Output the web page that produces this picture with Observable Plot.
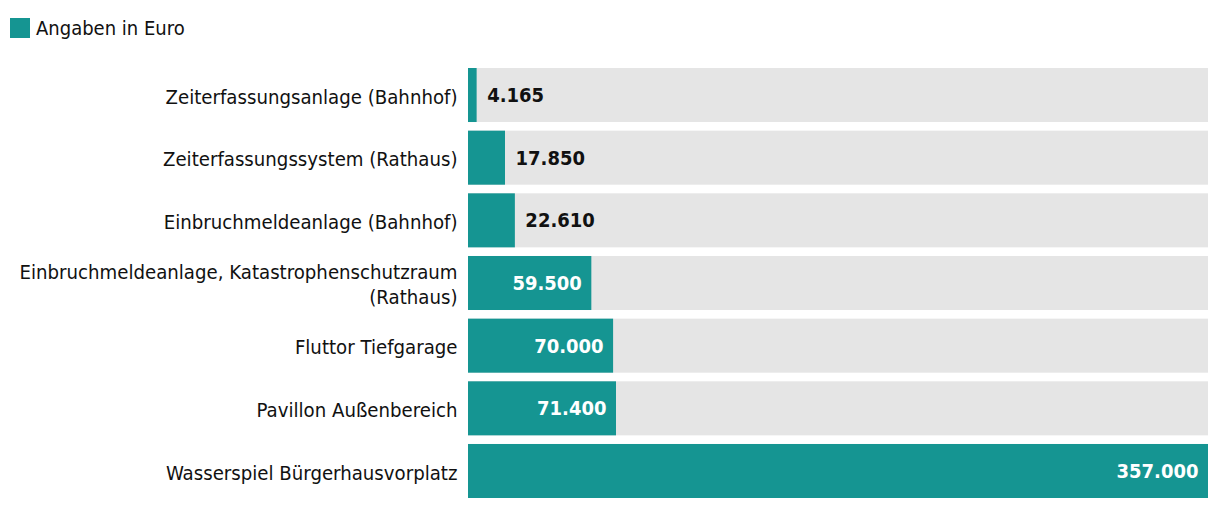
<!DOCTYPE html>
<html>
<head>
<meta charset="utf-8">
<script src="https://cdn.jsdelivr.net/npm/d3@7"></script>
<script src="https://cdn.jsdelivr.net/npm/@observablehq/plot@0.6"></script>
<style>
  html, body { margin: 0; padding: 0; background: #fff; }
  body { width: 1220px; height: 510px; overflow: hidden; font-family: "Liberation Sans Narrow", "DejaVu Sans Condensed", sans-serif; }
  #legend { height: 60px; position: relative; }
  #legend .sw { position: absolute; left: 10px; top: 18px; width: 20px; height: 20px; background: #159592; }
  #legend .lt { position: absolute; left: 36px; top: 15px; font-size: 20px; color: #111; line-height: 26px; }
  #chart svg { display: block; }
</style>
</head>
<body>
<div id="legend"><span class="sw"></span><span class="lt">Angaben in Euro</span></div>
<div id="chart"></div>
<script>
const categories = [
  "Zeiterfassungsanlage (Bahnhof)",
  "Zeiterfassungssystem (Rathaus)",
  "Einbruchmeldeanlage (Bahnhof)",
  "Einbruchmeldeanlage, Katastrophenschutzraum\n(Rathaus)",
  "Fluttor Tiefgarage",
  "Pavillon Außenbereich",
  "Wasserspiel Bürgerhausvorplatz"
];
const values = [4165, 17850, 22610, 59500, 70000, 71400, 357000];
const maxValue = 357000;
const legendLabel = "Angaben in Euro";

const data = categories.map((c, i) => ({category: c, value: values[i]}));
const de = d3.formatLocale({decimal: ",", thousands: ".", grouping: [3], currency: ["", " €"]});
const fmt = de.format(",d");
const inside = d => d.value > 50000;

const chart = Plot.plot({
  width: 1220,
  height: 450,
  marginTop: 8,
  marginBottom: 12,
  marginLeft: 468,
  marginRight: 12,
  style: {fontFamily: '"Liberation Sans Narrow", "DejaVu Sans Condensed", sans-serif', background: "#fff"},
  x: {domain: [0, maxValue], axis: null},
  y: {domain: categories, axis: null, paddingInner: 0.138, paddingOuter: 0, round: false},
  marks: [
    Plot.barX(data, {y: "category", x: () => maxValue, fill: "#e5e5e5"}),
    Plot.barX(data, {y: "category", x: "value", fill: "#159592"}),
    Plot.text(data, {y: "category", x: 0, text: "category", textAnchor: "end", dx: -11, fontSize: 20.2, fill: "#111", lineHeight: 1.25}),
    Plot.text(data.filter(d => !inside(d)), {y: "category", x: "value", text: d => fmt(d.value), textAnchor: "start", dx: 10, fontSize: 20, fontWeight: "bold", fill: "#111"}),
    Plot.text(data.filter(inside), {y: "category", x: "value", text: d => fmt(d.value), textAnchor: "end", dx: -10, fontSize: 20, fontWeight: "bold", fill: "#fff"})
  ]
});
document.getElementById("chart").appendChild(chart);
</script>
</body>
</html>
